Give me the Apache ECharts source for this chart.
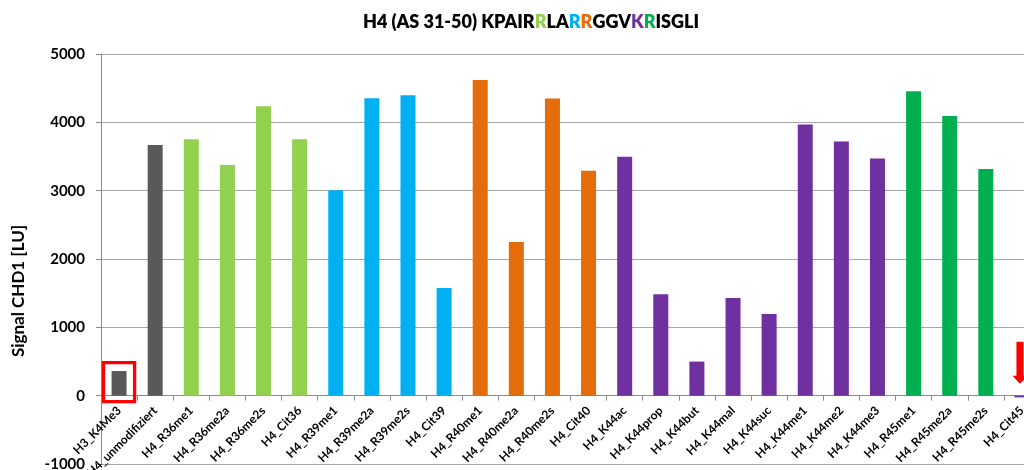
<!DOCTYPE html>
<html>
<head>
<meta charset="utf-8">
<script src="https://cdn.jsdelivr.net/npm/echarts@6/dist/echarts.min.js"></script>
<style>
  html, body { margin: 0; padding: 0; background: #fff; overflow: hidden; }
  #main { width: 1044px; height: 560px; }
</style>
</head>
<body>
<div id="main"></div>
<script>
// Kategorien (Modifikationen)
var categories = ['H3_K4Me3', 'H4_unmodifiziert', 'H4_R36me1', 'H4_R36me2a', 'H4_R36me2s', 'H4_Cit36',
  'H4_R39me1', 'H4_R39me2a', 'H4_R39me2s', 'H4_Cit39', 'H4_R40me1', 'H4_R40me2a', 'H4_R40me2s', 'H4_Cit40',
  'H4_K44ac', 'H4_K44prop', 'H4_K44but', 'H4_K44mal', 'H4_K44suc', 'H4_K44me1', 'H4_K44me2', 'H4_K44me3',
  'H4_R45me1', 'H4_R45me2a', 'H4_R45me2s', 'H4_Cit45'];
// Signal CHD1 [LU]
var signal = [360, 3667, 3754, 3374, 4237, 3754,
  3005, 4354, 4398, 1576, 4621, 2249, 4349, 3291,
  3496, 1484, 499, 1430, 1196, 3969, 3721, 3472,
  4456, 4091, 3316, -25];
// Gruppe je Kategorie (modifizierte Position)
var groups = ['ref', 'ref', 'R36', 'R36', 'R36', 'R36',
  'R39', 'R39', 'R39', 'R39', 'R40', 'R40', 'R40', 'R40',
  'K44', 'K44', 'K44', 'K44', 'K44', 'K44', 'K44', 'K44',
  'R45', 'R45', 'R45', 'K44'];
var yTicks = [-1000, 0, 1000, 2000, 3000, 4000, 5000];

var groupColors = {
  ref: '#595959', R36: '#92D050', R39: '#00B0F0', R40: '#E46C0A', K44: '#7030A0', R45: '#00B050'
};

var FONT = 'Lato, "Open Sans", sans-serif';
var myChart = echarts.init(document.getElementById('main'));

var barData = signal.map(function (v, i) {
  return { value: v, itemStyle: { color: groupColors[groups[i]] } };
});

function tStyle(c) {
  return { fontFamily: FONT, fontWeight: 800, fontSize: 18, color: c };
}

var option = {
  animation: false,
  title: {
    left: 526,
    top: 8,
    textAlign: 'center',
    text: '{b|H4 (AS 31-50) KPAIR}{g1|R}{b|LA}{bl|R}{o|R}{b|GGV}{p|K}{g2|R}{b|ISGLI}',
    textStyle: {
      fontFamily: FONT, fontWeight: 800, fontSize: 18, color: '#000',
      rich: {
        b: tStyle('#000'),
        g1: tStyle(groupColors.R36),
        bl: tStyle(groupColors.R39),
        o: tStyle(groupColors.R40),
        p: tStyle(groupColors.K44),
        g2: tStyle(groupColors.R45)
      }
    }
  },
  // Zeichenfläche ragt rechts und unten über das sichtbare Fenster hinaus (wie im Original)
  grid: { left: 101, right: 4, top: 54, bottom: 96 },
  xAxis: {
    type: 'category',
    data: categories,
    position: 'bottom',
    offset: 0,
    axisLine: { onZero: false, lineStyle: { color: '#8C8C8C', width: 1 } },
    axisTick: { show: true, length: 5, lineStyle: { color: '#8C8C8C' } },
    axisLabel: {
      show: true, interval: 0, rotate: 45, margin: 13,
      fontFamily: FONT, fontWeight: 'bold', fontSize: 12, color: '#000'
    }
  },
  yAxis: {
    type: 'value',
    min: yTicks[0],
    max: yTicks[yTicks.length - 1],
    interval: 1000,
    name: 'Signal CHD1 [LU]',
    nameLocation: 'middle',
    nameGap: 74,
    nameTextStyle: { fontFamily: FONT, fontWeight: 'bold', fontSize: 17, color: '#000', padding: [0, 64, 0, 0] },
    axisLine: { show: true, lineStyle: { color: '#8C8C8C', width: 1 } },
    axisTick: { show: true, length: 5, lineStyle: { color: '#8C8C8C' } },
    axisLabel: {
      margin: 16, fontFamily: FONT, fontWeight: 'bold', fontSize: 15, color: '#000',
      formatter: function (v) { return String(v); }
    },
    splitLine: { show: true, lineStyle: { color: '#A6A6A6', width: 1 } }
  },
  series: [{
    type: 'bar',
    barWidth: 15,
    data: barData
  }]
};
myChart.setOption(option);

// x-Achse auf die Nulllinie schieben
var yZero = myChart.convertToPixel({ yAxisIndex: 0 }, 0);
var yBottom = myChart.convertToPixel({ yAxisIndex: 0 }, yTicks[0]);
myChart.setOption({ xAxis: { offset: -(yBottom - yZero) } });

// Markierungen: roter Rahmen um Referenz, roter Pfeil auf Cit45
function drawMarks() {
  var bw = myChart.getModel().getComponent('xAxis', 0).axis.getBandWidth();
  var ref = myChart.convertToPixel({ gridIndex: 0 }, [categories[0], signal[0]]);
  var zero0 = myChart.convertToPixel({ gridIndex: 0 }, [categories[0], 0]);
  var last = categories.length - 1;
  var zeroL = myChart.convertToPixel({ gridIndex: 0 }, [categories[last], 0]);
  var hw = bw * 0.43;
  var ax = zeroL[0] - 2;
  var ay = zeroL[1];
  myChart.setOption({
    graphic: [{
      type: 'rect',
      shape: { x: zero0[0] - hw, y: ref[1] - 8.5, width: hw * 2, height: zero0[1] - ref[1] + 14.5 },
      style: { fill: 'none', stroke: '#FF0000', lineWidth: 3.3 },
      z: 100
    }, {
      type: 'polygon',
      shape: {
        points: [
          [ax - 3.5, ay - 54], [ax + 3.5, ay - 54], [ax + 3.5, ay - 20], [ax + 7.5, ay - 20],
          [ax, ay - 12], [ax - 7.5, ay - 20], [ax - 3.5, ay - 20]
        ]
      },
      style: { fill: '#FF0000' },
      z: 100
    }]
  });
}
drawMarks();
</script>
</body>
</html>
